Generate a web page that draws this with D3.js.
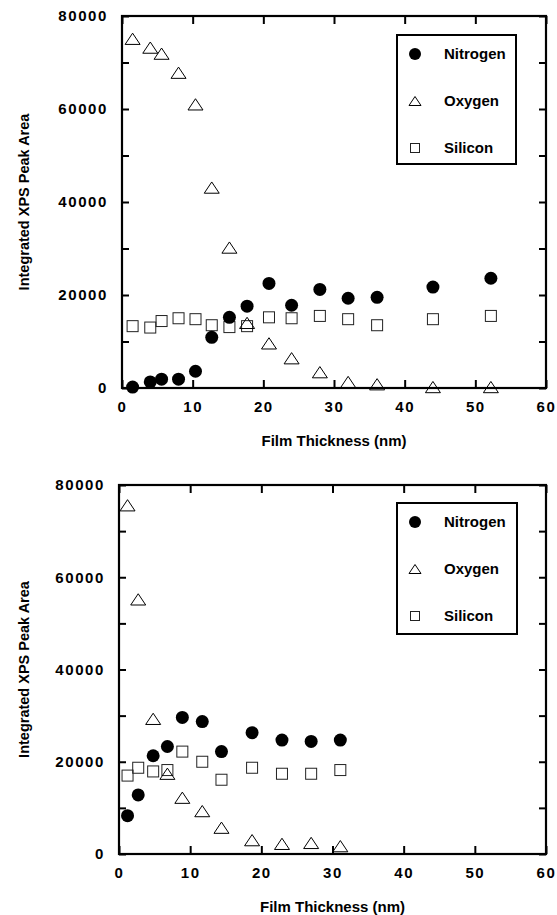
<!DOCTYPE html>
<html>
<head>
<meta charset="utf-8">
<script src="https://cdn.jsdelivr.net/npm/d3@7"></script>
<style>
  body { margin: 0; background: #fff; }
  text { font-family: "Liberation Sans", Arial, sans-serif; font-weight: bold; fill: #000; }
</style>
</head>
<body>
<div id="chart"></div>
<script>
// top panel
var thickTop = [1.5, 4.0, 5.6, 8.0, 10.4, 12.7, 15.2, 17.7, 20.8, 24.0, 28.0, 32.0, 36.1, 44.0, 52.2];
var nitrogenTop = [200, 1300, 1900, 1900, 3600, 10900, 15200, 17600, 22500, 17800, 21200, 19300, 19500, 21700, 23600];
var oxygenTop = [75100, 73200, 71900, 67800, 61000, 43100, 30200, 14000, 9600, 6400, 3400, 1300, 800, 200, 200];
var siliconTop = [13300, 13000, 14400, 15000, 14800, 13500, 13100, 13300, 15200, 15000, 15500, 14800, 13500, 14800, 15500];

// bottom panel
var thickBot = [1.2, 2.7, 4.8, 6.8, 8.9, 11.7, 14.4, 18.7, 22.9, 27.0, 31.1];
var nitrogenBot = [8300, 12800, 21300, 23300, 29600, 28700, 22200, 26300, 24700, 24400, 24700];
var oxygenBot = [75600, 55200, 29300, 17400, 12200, 9300, 5700, 3000, 2200, 2400, 1700];
var siliconBot = [17000, 18700, 17900, 18200, 22200, 20000, 16100, 18700, 17400, 17400, 18200];

var xTicks = [0, 10, 20, 30, 40, 50, 60];
var yTicks = [0, 10000, 20000, 30000, 40000, 50000, 60000, 70000, 80000];
var seriesNames = ["Nitrogen", "Oxygen", "Silicon"];
var xTitle = "Film Thickness (nm)";
var yTitle = "Integrated XPS Peak Area";

var svg = d3.select("#chart").append("svg")
    .attr("width", 557)
    .attr("height", 915);

function tri(s) {
    var h = s * 0.75;
    return "M0," + (-h / 2) + "L" + (s / 2) + "," + (h / 2) + "L" + (-s / 2) + "," + (h / 2) + "Z";
}

function drawSymbol(g, kind, x, y, big) {
    if (kind === "Nitrogen") {
        g.append("circle").attr("cx", x).attr("cy", y).attr("r", big ? 6.5 : 6)
            .attr("fill", "#000");
    } else if (kind === "Oxygen") {
        g.append("path").attr("d", tri(big ? 15 : 12))
            .attr("transform", "translate(" + x + "," + y + ")")
            .attr("fill", "none").attr("stroke", "#000").attr("stroke-width", 1);
    } else {
        var s = big ? 11 : 9;
        g.append("rect").attr("x", x - s / 2).attr("y", y - s / 2)
            .attr("width", s).attr("height", s)
            .attr("fill", "none").attr("stroke", "#222").attr("stroke-width", 1);
    }
}

function panel(box, thick, nitro, oxy, sil, legendBox) {
    var x = d3.scaleLinear().domain([0, 60]).range([box.left, box.right]);
    var y = d3.scaleLinear().domain([0, 80000]).range([box.bottom, box.top]);
    var g = svg.append("g");

    var fmtY = function(d) { return d % 20000 === 0 ? d : ""; };

    var left = g.append("g").attr("transform", "translate(" + box.left + ",0)")
        .call(d3.axisLeft(y).tickValues(yTicks).tickSize(-7).tickPadding(14).tickFormat(fmtY));
    var right = g.append("g").attr("transform", "translate(" + box.right + ",0)")
        .call(d3.axisRight(y).tickValues(yTicks).tickSize(-7).tickFormat(""));
    var bottom = g.append("g").attr("transform", "translate(0," + box.bottom + ")")
        .call(d3.axisBottom(x).tickValues(xTicks).tickSize(-8).tickPadding(13).tickFormat(d3.format("d")));
    var top = g.append("g").attr("transform", "translate(0," + box.top + ")")
        .call(d3.axisTop(x).tickValues(xTicks).tickSize(-8).tickFormat(""));

    [left, right, bottom, top].forEach(function(a) {
        a.select(".domain").remove();
        a.selectAll(".tick line").attr("stroke", "#000").attr("stroke-width", 2);
        a.selectAll(".tick text")
            .style("font-size", "15px")
            .style("letter-spacing", "1.6px")
            .attr("fill", "#000");
    });

    g.append("rect")
        .attr("x", box.left).attr("y", box.top)
        .attr("width", box.right - box.left).attr("height", box.bottom - box.top)
        .attr("fill", "none").attr("stroke", "#000").attr("stroke-width", 2.2);

    // axis titles
    g.append("text")
        .attr("x", (box.left + box.right) / 2)
        .attr("y", box.bottom + 58)
        .attr("text-anchor", "middle")
        .style("font-size", "15px")
        .text(xTitle);
    g.append("text")
        .attr("transform", "translate(29," + ((box.top + box.bottom) / 2) + ") rotate(-90)")
        .attr("text-anchor", "middle")
        .style("font-size", "14.5px")
        .text(yTitle);

    // data
    var pts = g.append("g");
    thick.forEach(function(t, i) { drawSymbol(pts, "Silicon", x(t), y(sil[i]), true); });
    thick.forEach(function(t, i) { drawSymbol(pts, "Oxygen", x(t), y(oxy[i]), true); });
    thick.forEach(function(t, i) { drawSymbol(pts, "Nitrogen", x(t), y(nitro[i]), true); });

    // legend
    var lg = g.append("g");
    lg.append("rect")
        .attr("x", legendBox.x).attr("y", legendBox.y)
        .attr("width", legendBox.w).attr("height", legendBox.h)
        .attr("fill", "#fff").attr("stroke", "#000").attr("stroke-width", 2);
    seriesNames.forEach(function(name, i) {
        var yy = legendBox.y + 19 + i * 47;
        drawSymbol(lg, name, legendBox.x + 18, yy, false);
        lg.append("text")
            .attr("x", legendBox.x + 47)
            .attr("y", yy)
            .attr("dy", "0.35em")
            .style("font-size", "15px")
            .text(name);
    });
}

panel({left: 122, right: 546, top: 16, bottom: 388},
      thickTop, nitrogenTop, oxygenTop, siliconTop,
      {x: 397, y: 35, w: 119, h: 129});
panel({left: 119, right: 546, top: 485, bottom: 854},
      thickBot, nitrogenBot, oxygenBot, siliconBot,
      {x: 397, y: 503, w: 120, h: 131});
</script>
</body>
</html>
